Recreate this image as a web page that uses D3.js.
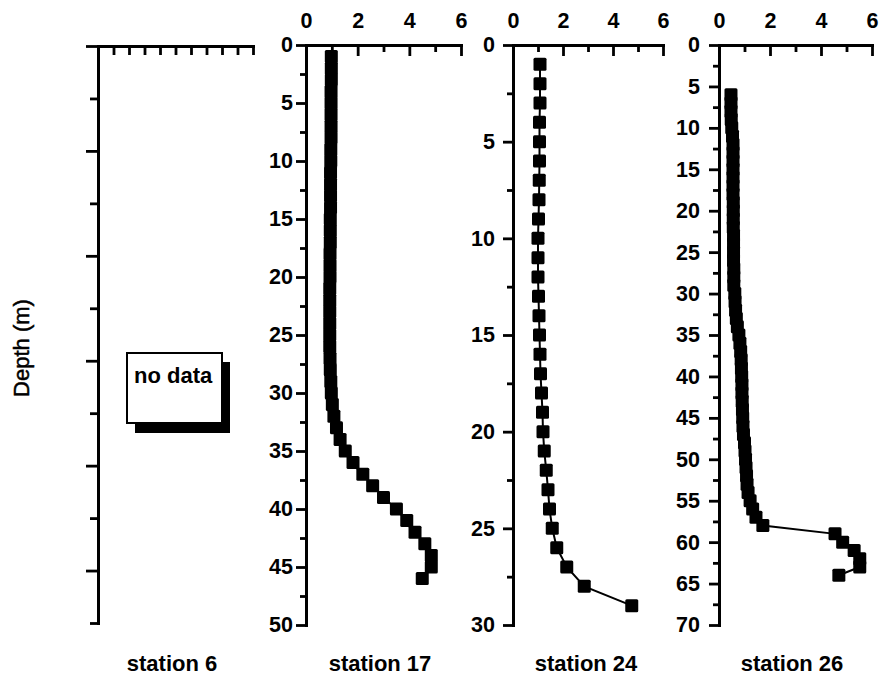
<!DOCTYPE html>
<html><head><meta charset="utf-8">
<script src="https://cdn.jsdelivr.net/npm/d3@7/dist/d3.min.js"></script>
<style>
body{margin:0;background:#fff;}
svg{display:block;}
text{font-family:"Liberation Sans",Arial,sans-serif;font-weight:bold;fill:#000;}
</style></head>
<body>
<svg id="chart" width="891" height="680"></svg>
<script>
// ---- data ----
const stationNames = ["station 6", "station 17", "station 24", "station 26"];
const xTickLabels = [0, 2, 4, 6];
const depthMax17 = 50, depthMax24 = 30, depthMax26 = 70;

const depth17 = [1,2,3,4,5,6,7,8,9,10,11,12,13,14,15,16,17,18,19,20,21,22,23,24,25,26,27,28,29,30,31,32,33,34,35,36,37,38,39,40,41,42,43,44,45,46];
const value17 = [0.98,0.98,0.98,0.97,0.97,0.97,0.97,0.97,0.96,0.96,0.95,0.95,0.95,0.95,0.94,0.94,0.94,0.93,0.93,0.93,0.92,0.92,0.92,0.92,0.92,0.92,0.93,0.94,0.96,0.98,1.02,1.08,1.18,1.32,1.52,1.82,2.2,2.58,3.0,3.5,3.9,4.22,4.6,4.85,4.85,4.5];

const depth24 = [1,2,3,4,5,6,7,8,9,10,11,12,13,14,15,16,17,18,19,20,21,22,23,24,25,26,27,28,29];
const value24 = [1.08,1.08,1.08,1.06,1.06,1.06,1.05,1.04,1.02,1.0,1.0,1.0,1.02,1.04,1.06,1.08,1.1,1.14,1.18,1.2,1.25,1.33,1.4,1.46,1.57,1.75,2.15,2.85,4.75];

const depth26 = [6,7,8,9,10,11,12,13,14,15,16,17,18,19,20,21,22,23,24,25,26,27,28,29,30,31,32,33,34,35,36,37,38,39,40,41,42,43,44,45,46,47,48,49,50,51,52,53,54,55,56,57,58,59,60,61,62,63,64];
const value26 = [0.47,0.47,0.47,0.48,0.5,0.53,0.55,0.55,0.55,0.55,0.55,0.55,0.55,0.56,0.56,0.56,0.56,0.57,0.57,0.57,0.57,0.58,0.58,0.58,0.62,0.63,0.65,0.68,0.72,0.78,0.82,0.85,0.87,0.88,0.89,0.9,0.9,0.91,0.92,0.93,0.94,0.96,1.0,1.02,1.04,1.06,1.08,1.1,1.14,1.22,1.32,1.45,1.72,4.55,4.85,5.3,5.52,5.52,4.7];

// ---- layout ----
const svg = d3.select("#chart");
const panels = [
  {x0:98,  x1:253, y0:46, y1:623, xd:[0,1], yd:[0,55], name:stationNames[0], lx:172, empty:true},
  {x0:306, x1:461, y0:45, y1:625, xd:[0,6], yd:[0,depthMax17], name:stationNames[1], lx:380, d:depth17, v:value17, pad:3},
  {x0:513, x1:663, y0:45, y1:625, xd:[0,6], yd:[0,depthMax24], name:stationNames[2], lx:586, d:depth24, v:value24, pad:8},
  {x0:719, x1:872, y0:45, y1:625, xd:[0,6], yd:[0,depthMax26], name:stationNames[3], lx:792, d:depth26, v:value26, pad:9}
];

function styleAxis(g, w){
  g.select(".domain").attr("stroke","#000").attr("stroke-width",3).attr("stroke-linecap","square");
  g.selectAll(".tick line").attr("stroke","#000").attr("stroke-width",w||2.8);
  g.selectAll(".tick text").style("font-size","21.5px").attr("fill","#000");
}

panels.forEach(p=>{
  const x = d3.scaleLinear().domain(p.xd).range([p.x0,p.x1]);
  const y = d3.scaleLinear().domain(p.yd).range([p.y0,p.y1]);
  const g = svg.append("g");

  if(p.empty){
    const gx = g.append("g").attr("transform",`translate(0,${p.y0})`)
      .call(d3.axisTop(x).tickValues(d3.range(0,11).map(i=>i/10)).tickSize(-9).tickSizeOuter(0).tickFormat(""));
    styleAxis(gx);
    const gy = g.append("g").attr("transform",`translate(${p.x0},0)`)
      .call(d3.axisLeft(y).tickValues([0,10,20,30,40,50]).tickSize(12).tickSizeOuter(0).tickFormat(""));
    styleAxis(gy);
    const gy2 = g.append("g").attr("transform",`translate(${p.x0},0)`)
      .call(d3.axisLeft(y).tickValues([5,15,25,35,45,55]).tickSize(8).tickSizeOuter(0).tickFormat(""));
    gy2.select(".domain").remove(); styleAxis(gy2);
    // no data box with shadow
    g.append("rect").attr("x",135).attr("y",362).attr("width",95).attr("height",71).attr("fill","#000");
    g.append("rect").attr("x",127).attr("y",353).attr("width",95).attr("height",70).attr("fill","#fff").attr("stroke","#000").attr("stroke-width",2);
    g.append("text").attr("x",134).attr("y",383).style("font-size","22px").text("no data");
  } else {
    const gx = g.append("g").attr("transform",`translate(0,${p.y0})`)
      .call(d3.axisTop(x).tickValues(xTickLabels).tickSize(-11).tickSizeOuter(0).tickPadding(17).tickFormat(d3.format("d")));
    styleAxis(gx);
    const gx2 = g.append("g").attr("transform",`translate(0,${p.y0})`)
      .call(d3.axisTop(x).tickValues([1,3,5]).tickSize(-7).tickSizeOuter(0).tickFormat(""));
    gx2.select(".domain").remove(); styleAxis(gx2);

    const maj = d3.range(0, p.yd[1]+0.1, 5);
    const mn = d3.range(2.5, p.yd[1], 5);
    const gy = g.append("g").attr("transform",`translate(${p.x0},0)`)
      .call(d3.axisLeft(y).tickValues(maj).tickSize(10).tickSizeOuter(0).tickPadding(p.pad).tickFormat(d3.format("d")));
    styleAxis(gy);
    const gy2 = g.append("g").attr("transform",`translate(${p.x0},0)`)
      .call(d3.axisLeft(y).tickValues(mn).tickSize(6).tickSizeOuter(0).tickFormat(""));
    gy2.select(".domain").remove(); styleAxis(gy2);

    const pts = p.d.map((dd,i)=>({d:dd, v:p.v[i]}));
    const line = d3.line().x(q=>x(q.v)).y(q=>y(q.d));
    g.append("path").datum(pts).attr("d",line).attr("fill","none").attr("stroke","#000").attr("stroke-width",2);
    const s = 13;
    g.selectAll("rect.m").data(pts).join("rect").attr("class","m")
      .attr("x",q=>x(q.v)-s/2).attr("y",q=>y(q.d)-s/2).attr("width",s).attr("height",s)
      .attr("rx",1.5).attr("fill","#000");
  }
  svg.append("text").attr("x",p.lx).attr("y",671).attr("text-anchor","middle").style("font-size","22px").text(p.name);
});

svg.append("text").attr("transform","translate(29,348) rotate(-90)").attr("text-anchor","middle")
  .style("font-size","22px").style("font-weight","normal")
  .attr("stroke","#000").attr("stroke-width",0.5).text("Depth (m)");
</script>
</body></html>
